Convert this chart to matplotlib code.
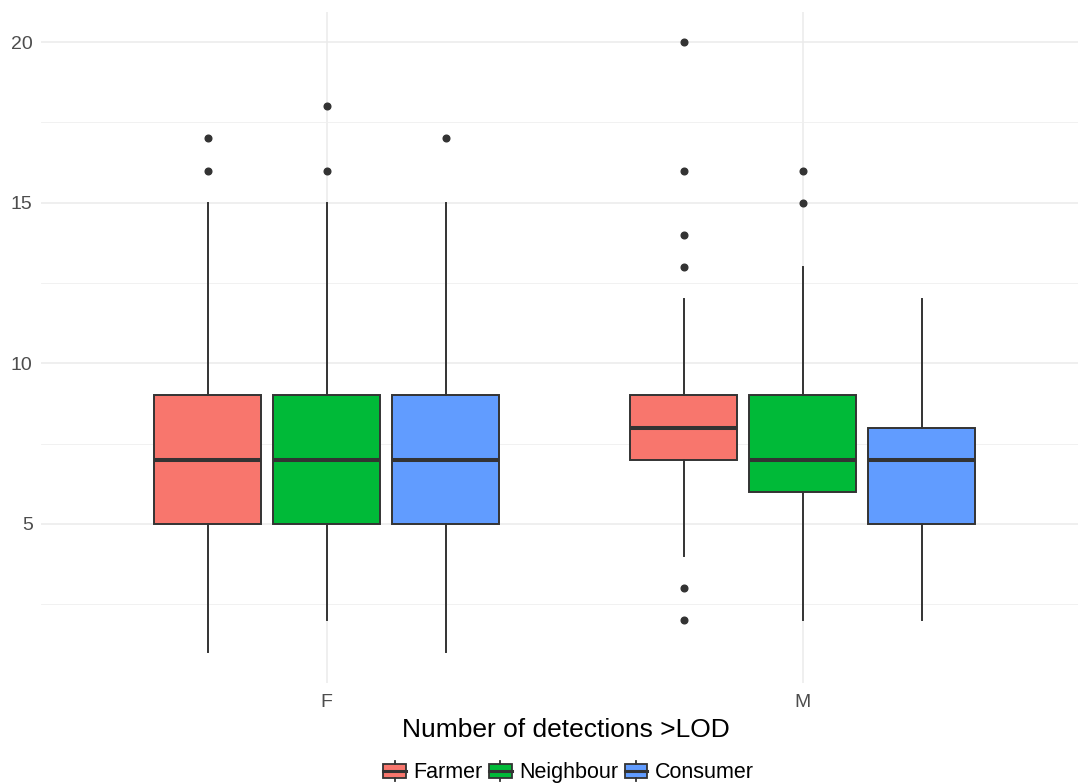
import matplotlib
matplotlib.use("Agg")
import matplotlib.pyplot as plt
from matplotlib.legend_handler import HandlerBase
from matplotlib.patches import Rectangle
from matplotlib.lines import Line2D

plt.rcParams['font.family'] = ['Liberation Sans', 'DejaVu Sans']

# Data: detections > LOD by sex and participant group
sexes = ["F", "M"]
groups = ["Farmer", "Neighbour", "Consumer"]
colors = ["#F8766D", "#00BA38", "#619CFF"]

# summary statistics per (sex, group): whisker low, Q1, median, Q3, whisker high
whislo = {"F": [1, 2, 1], "M": [4, 2, 2]}
q1 = {"F": [5, 5, 5], "M": [7, 6, 5]}
med = {"F": [7, 7, 7], "M": [8, 7, 7]}
q3 = {"F": [9, 9, 9], "M": [9, 9, 8]}
whishi = {"F": [15, 15, 15], "M": [12, 13, 12]}
fliers = {"F": [[16, 17], [16, 18], [17]],
          "M": [[2, 3, 13, 14, 16, 20], [15, 16], []]}

fig = plt.figure(figsize=(10.78, 7.84), dpi=100)
ax = fig.add_axes([0.038, 0.1288, 0.962, 0.8565])

edge = "#333333"
dodge = 0.25
box_w = 0.225

for si, sex in enumerate(sexes):
    for gi, grp in enumerate(groups):
        pos = si + 1 + (gi - 1) * dodge
        stats = [dict(whislo=whislo[sex][gi], q1=q1[sex][gi], med=med[sex][gi],
                      q3=q3[sex][gi], whishi=whishi[sex][gi],
                      fliers=fliers[sex][gi])]
        ax.bxp(stats, positions=[pos], widths=box_w, patch_artist=True,
               showcaps=False,
               boxprops=dict(facecolor=colors[gi], edgecolor=edge, linewidth=1.4),
               medianprops=dict(color=edge, linewidth=2.9, solid_capstyle="butt"),
               whiskerprops=dict(color=edge, linewidth=1.4),
               flierprops=dict(marker="o", markerfacecolor=edge, markeredgecolor=edge,
                               markersize=4.8, linestyle="none"),
               zorder=3)

ax.set_xlim(0.4, 2.578)
ax.set_ylim(0.05, 20.95)
ax.set_xticks([1, 2])
ax.set_xticklabels(sexes)
ax.set_yticks([5, 10, 15, 20])
ax.set_yticks([2.5, 7.5, 12.5, 17.5], minor=True)
ax.grid(True, which="major", color="#EBEBEB", linewidth=1.1, zorder=0)
ax.grid(True, which="minor", axis="y", color="#EFEFEF", linewidth=0.6, zorder=0)
ax.set_axisbelow(True)
for s in ax.spines.values():
    s.set_visible(False)
ax.tick_params(which="both", length=0, labelsize=14, labelcolor="#4D4D4D", pad=6)
ax.tick_params(axis="x", pad=8)
ax.set_xlabel("Number of detections >LOD", fontsize=19, color="black")
ax.xaxis.set_label_coords(0.506, -0.052)


class BoxKeyHandler(HandlerBase):
    def create_artists(self, legend, orig_handle, xdescent, ydescent, width, height,
                       fontsize, trans):
        fc = orig_handle.get_facecolor()
        cx = -xdescent + width / 2
        bw = width * 0.9
        bh = height * 0.72
        by = -ydescent + (height - bh) / 2
        rect = Rectangle((cx - bw / 2, by), bw, bh, facecolor=fc, edgecolor=edge,
                         linewidth=1.3, transform=trans)
        vl1 = Line2D([cx, cx], [-ydescent, by], color=edge, linewidth=1.3, transform=trans)
        vl2 = Line2D([cx, cx], [by + bh, -ydescent + height], color=edge, linewidth=1.3,
                     transform=trans)
        ml = Line2D([cx - bw / 2, cx + bw / 2], [by + bh / 2, by + bh / 2], color=edge,
                    linewidth=2.2, transform=trans)
        return [rect, vl1, vl2, ml]


handles = [Rectangle((0, 0), 1, 1, facecolor=c) for c in colors]
fig.legend(handles, groups, handler_map={Rectangle: BoxKeyHandler()},
           loc="center", bbox_to_anchor=(0.527, 0.015), ncol=3, frameon=False,
           fontsize=15.5, handlelength=1.15, handleheight=1.05, handletextpad=0.3,
           columnspacing=0.25, borderaxespad=0)

fig.savefig("out.png", dpi=100)
